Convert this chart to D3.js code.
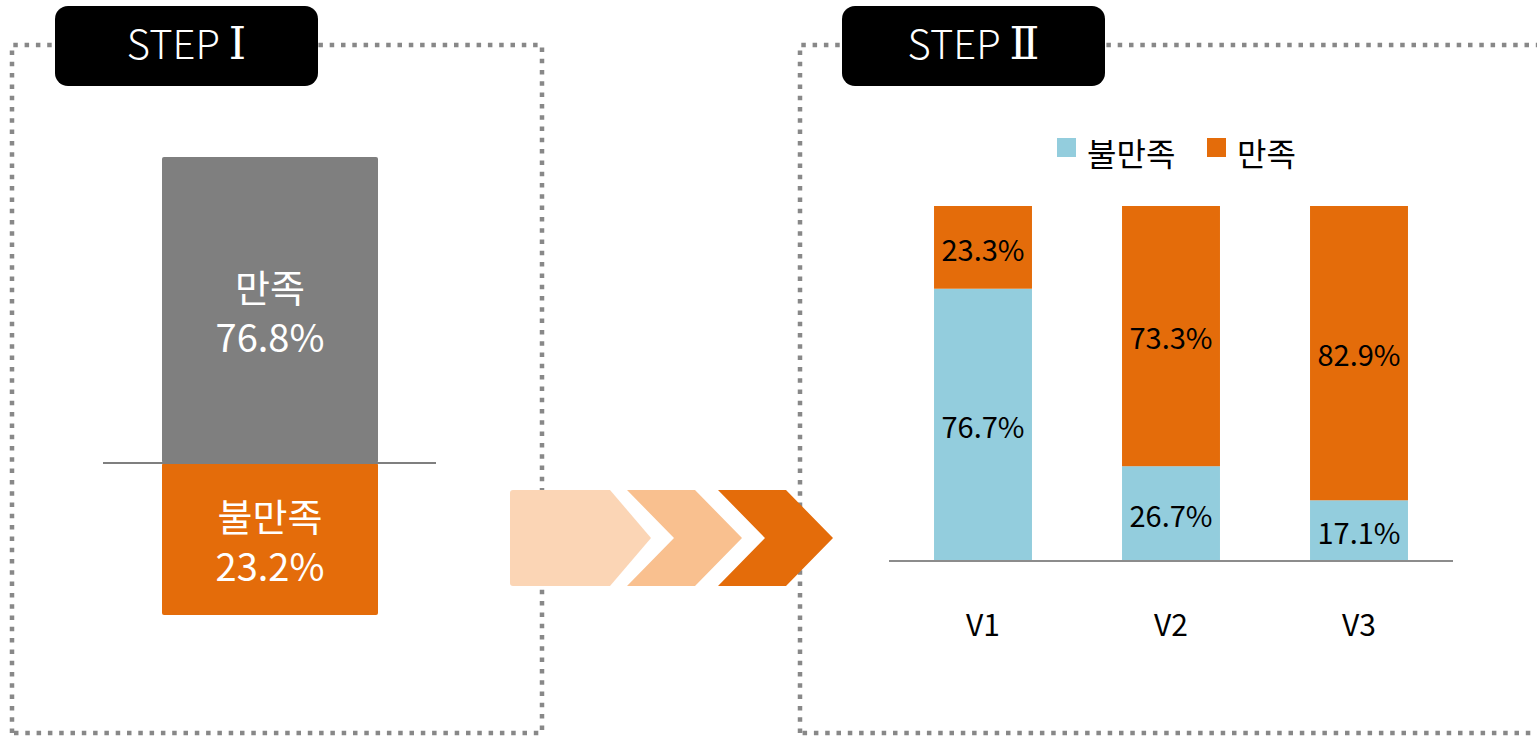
<!DOCTYPE html>
<html><head><meta charset="utf-8">
<script src="https://cdn.jsdelivr.net/npm/d3@7"></script>
<style>body{margin:0;background:#fff;overflow:hidden} svg{display:block;font-family:"Noto Sans CJK KR","Noto Sans",sans-serif;}</style>
</head><body>
<svg id="c" width="1537" height="736"></svg>
<script>
// ---- data ----
const stepWords = ["STEP", "STEP"];
const stepNumerals = ["Ⅰ", "Ⅱ"];
const step1Names = ["불만족", "만족"];
const step1Values = [23.2, 76.8];
const categories = ["V1", "V2", "V3"];
const seriesNames = ["불만족", "만족"];
const dissatisfied = [76.7, 26.7, 17.1];
const satisfied = [23.3, 73.3, 82.9];
const chevronSteps = [1, 2, 3];

// ---- styles ----
const BLUE = "#93CDDD", ORANGE = "#E46C0A", GRAY = "#7F7F7F";
const chevronColors = ["#FBD5B5", "#F9C08F", "#E46C0A"];

const svg = d3.select("#c");

// dotted frames
const frames = [{x0:12,y0:45,x1:542,y1:733},{x0:800,y0:45,x1:1545,y1:733}];
svg.selectAll("path.frame").data(frames).join("path")
  .attr("class","frame")
  .attr("d", f => `M${f.x0},${f.y1} L${f.x0},${f.y0} L${f.x1},${f.y0} L${f.x1},${f.y1} Z`)
  .attr("fill","none").attr("stroke","#888").attr("stroke-width",4.5)
  .attr("stroke-dasharray","4.5,6.8");

// step labels
const labelPos = [{x:55},{x:842}];
const lg = svg.selectAll("g.step").data(stepWords).join("g").attr("class","step")
  .attr("transform",(d,i)=>`translate(${labelPos[i].x},6)`);
lg.append("rect").attr("width",263).attr("height",80).attr("rx",13).attr("fill","#000");
const lt = lg.append("text").attr("x",131.5).attr("y",47).attr("dy","0.35em")
  .attr("text-anchor","middle").attr("fill","#fff");
lt.append("tspan").attr("font-size",40).attr("font-weight",300).text(d=>d+" ");
lt.append("tspan").attr("font-family","'DejaVu Serif', 'Liberation Serif', serif").attr("font-size",44)
  .attr("font-weight",300).text((d,i)=>stepNumerals[i]);

// ---- STEP I stacked block ----
const y1 = d3.scaleLinear().domain([0, step1Values[0], 100]).range([615, 463, 157]);
const x1 = d3.scaleBand().domain(["STEP1"]).range([162, 378]);
const s1 = [];
{ let acc = 0; step1Values.forEach((v,i)=>{ s1.push({name:step1Names[i], v, lo:acc, hi:acc+v}); acc+=v; }); }
const s1Colors = [ORANGE, GRAY];
svg.selectAll("rect.s1").data(s1).join("rect").attr("class","s1")
  .attr("x", x1("STEP1")).attr("width", x1.bandwidth())
  .attr("y", d=>y1(d.hi)).attr("height", d=>y1(d.lo)-y1(d.hi))
  .attr("rx",2).attr("fill",(d,i)=>s1Colors[i]);
svg.append("line").attr("x1",103).attr("x2",436)
  .attr("y1",y1(step1Values[0])).attr("y2",y1(step1Values[0]))
  .attr("stroke",GRAY).attr("stroke-width",2);
const s1t = svg.selectAll("text.s1t").data(s1).join("text").attr("class","s1t")
  .attr("text-anchor","middle").attr("fill","#fff").attr("font-size",38);
s1t.append("tspan").attr("x", x1("STEP1")+x1.bandwidth()/2)
  .attr("y", d=>(y1(d.lo)+y1(d.hi))/2-21).attr("dy","0.35em").text(d=>d.name);
s1t.append("tspan").attr("x", x1("STEP1")+x1.bandwidth()/2)
  .attr("y", d=>(y1(d.lo)+y1(d.hi))/2+29).attr("dy","0.35em").text(d=>d.v.toFixed(1)+"%");

// ---- chevrons ----
const cy = d3.scaleLinear().domain([0,1]).range([490, 586]);
const chevStart = d3.scaleOrdinal().domain(chevronSteps).range([510, 627, 718]);
svg.selectAll("path.chev").data(chevronSteps).join("path").attr("class","chev")
  .attr("d", d => {
    const top = cy(0), bot = cy(1), mid = (top+bot)/2;
    const x0 = chevStart(d);
    if (d===1) {
      return `M${x0+3},${top} L${x0+100},${top} L${x0+141},${mid} L${x0+100},${bot} L${x0+3},${bot} Q${x0},${bot} ${x0},${bot-3} L${x0},${top+3} Q${x0},${top} ${x0+3},${top} Z`;
    }
    return `M${x0},${top} L${x0+68},${top} L${x0+115},${mid} L${x0+68},${bot} L${x0},${bot} L${x0+47},${mid} Z`;
  })
  .attr("fill",(d,i)=>chevronColors[i]);

// ---- STEP II stacked bars ----
const x = d3.scaleBand().domain(categories).range([889,1453]).paddingInner(0.479).paddingOuter(0.2395);
const y = d3.scaleLinear().domain([0,100]).range([561,206]);
const rows = categories.map((c,i)=>({c, segs:[
  {name:seriesNames[0], v:dissatisfied[i], lo:0, hi:dissatisfied[i], color:BLUE},
  {name:seriesNames[1], v:satisfied[i], lo:dissatisfied[i], hi:dissatisfied[i]+satisfied[i], color:ORANGE}
]}));
const bg = svg.selectAll("g.bar").data(rows).join("g").attr("class","bar");
bg.selectAll("rect").data(d=>d.segs.map(s=>({...s,c:d.c}))).join("rect")
  .attr("x",d=>x(d.c)).attr("width",x.bandwidth())
  .attr("y",d=>y(Math.min(d.hi,100))).attr("height",d=>y(d.lo)-y(Math.min(d.hi,100)))
  .attr("fill",d=>d.color);
bg.selectAll("text").data(d=>d.segs.map(s=>({...s,c:d.c}))).join("text")
  .attr("x",d=>x(d.c)+x.bandwidth()/2)
  .attr("y",d=>(y(d.lo)+y(Math.min(d.hi,100)))/2+3).attr("dy","0.35em")
  .attr("text-anchor","middle").attr("font-size",29).attr("fill","#000")
  .text(d=>d.v.toFixed(1)+"%");

// axis
const ax = svg.append("g").attr("transform",`translate(0,${y(0)})`)
  .call(d3.axisBottom(x).tickSize(0).tickPadding(54));
ax.select(".domain").attr("stroke","#8C8C8C").attr("stroke-width",2).attr("d","M889,0H1453");
ax.selectAll("text").attr("font-size",30).attr("fill","#000")
  .attr("font-family",'"Noto Sans CJK KR","Noto Sans",sans-serif');

// legend
const legColors = [BLUE, ORANGE];
const legX = [1057, 1207];
const leg = svg.selectAll("g.leg").data(seriesNames).join("g").attr("class","leg")
  .attr("transform",(d,i)=>`translate(${legX[i]},138)`);
leg.append("rect").attr("width",19).attr("height",19).attr("fill",(d,i)=>legColors[i]);
leg.append("text").attr("x",30).attr("y",17).attr("dy","0.35em").attr("font-size",32).attr("fill","#000").text(d=>d);
</script>
</body></html>
